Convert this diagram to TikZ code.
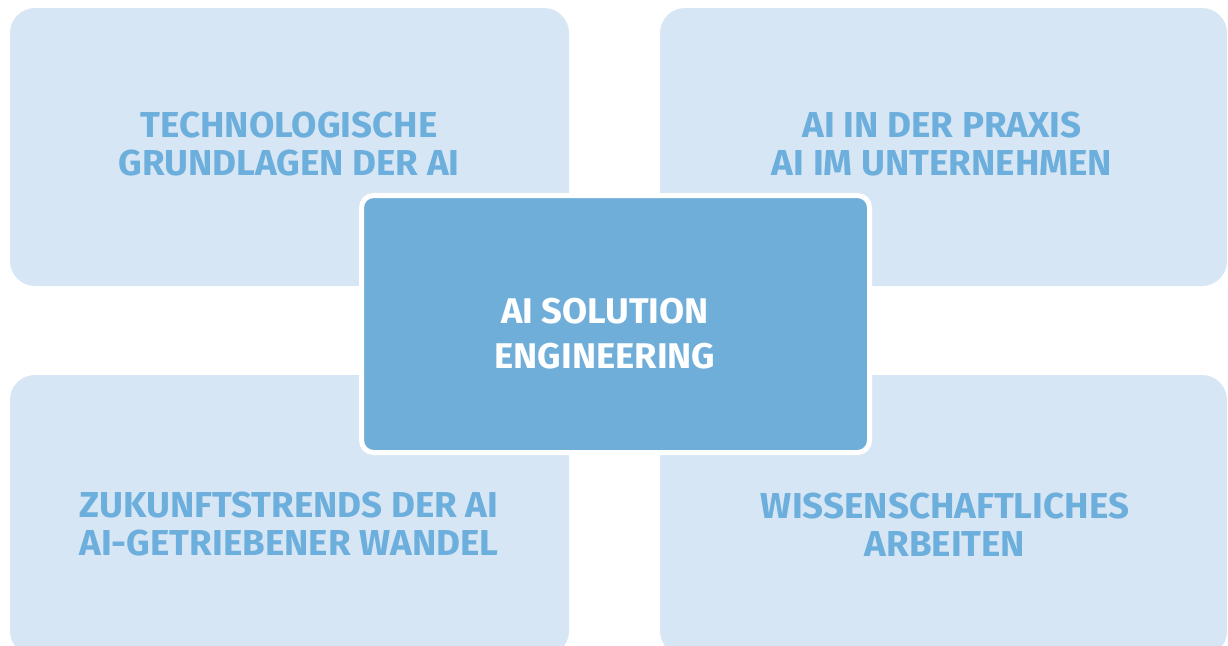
\documentclass[tikz,border=0pt]{standalone}
\usepackage{fontspec}
\setmainfont{Fira Sans}[FakeStretch=1.02]
\definecolor{boxfill}{RGB}{215,230,245}
\definecolor{boxtext}{RGB}{108,174,220}
\definecolor{corefill}{RGB}{111,174,217}
\begin{document}
\begin{tikzpicture}[x=1pt,y=-1pt,
  topic/.style={rectangle, rounded corners=25pt, fill=boxfill, inner sep=0pt},
  topictext/.style={align=center, text=boxtext, font=\fontsize{36}{38}\selectfont\bfseries, inner sep=0pt},
  core/.style={rectangle, rounded corners=12pt, fill=corefill, draw=white, line width=5pt, inner sep=0pt, minimum width=508pt, minimum height=257pt}]
\useasboundingbox (0,0) rectangle (1228,645);
\node[topic, minimum width=559pt, minimum height=278pt] (tl) at (289.5,147){};
\node[topic, minimum width=567pt, minimum height=278pt] (tr) at (943.5,147){};
\node[topic, minimum width=559pt, minimum height=281pt] (bl) at (289.5,515.5){};
\node[topic, minimum width=567pt, minimum height=281pt] (br) at (943.5,515.5){};
\node[core] (ai) at (615.5,324){};

\node[topictext] (tltext) at (289,144.5){TECHNOLOGISCHE\\GRUNDLAGEN DER AI};
\node[topictext] (trtext) at (942,144.5){AI IN DER PRAXIS\\AI IM UNTERNEHMEN};
\node[topictext] (bltext) at (289,524.5){ZUKUNFTSTRENDS DER AI\\AI-GETRIEBENER WANDEL};
\node[topictext] (brtext) at (945,524.5){WISSENSCHAFTLICHES\\ARBEITEN};
\node[align=center, text=white, font=\fontsize{35.7}{45}\selectfont\bfseries, inner sep=0pt] (aitext) at (605,334){AI SOLUTION\\ENGINEERING};

\end{tikzpicture}
\end{document}
